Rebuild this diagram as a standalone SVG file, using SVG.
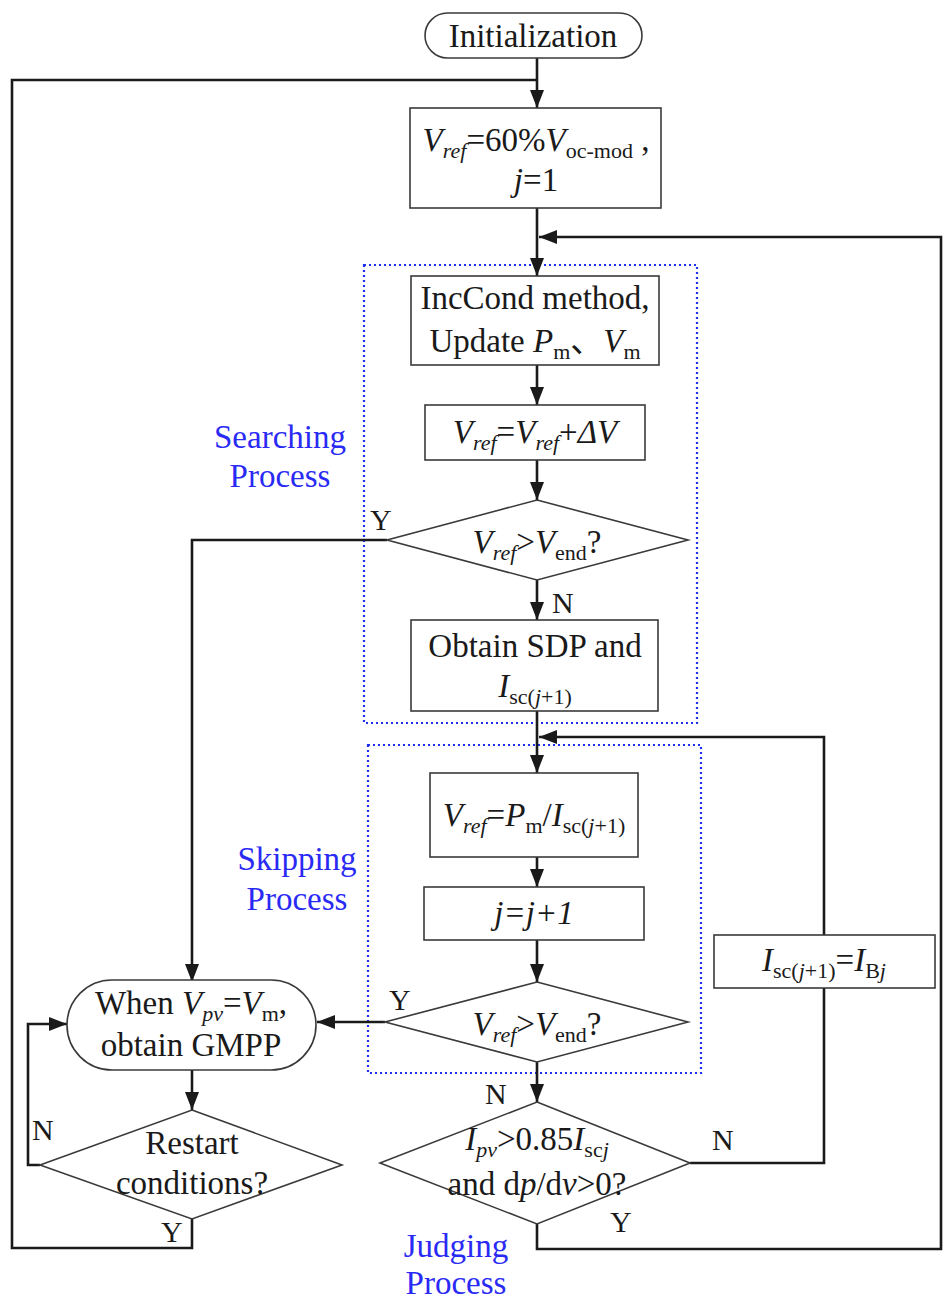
<svg xmlns="http://www.w3.org/2000/svg" width="943" height="1300" viewBox="0 0 943 1300" font-family="'Times New Roman', 'Liberation Serif', 'DejaVu Serif', serif">
  <style>
    .node { fill: #ffffff; stroke: #3a3a3a; stroke-width: 1.6; }
    .wire { fill: none; stroke: #1a1a1a; stroke-width: 2.6; }
    .zone { fill: none; stroke: #1f2ff0; stroke-width: 2.2; stroke-dasharray: 2 3; }
    text { font-family: "Times New Roman", "Liberation Serif", "DejaVu Serif", "Noto Sans CJK SC", serif; font-size: 33px; fill: #1a1a1a; }
    .c { text-anchor: middle; }
    .i { font-style: italic; }
    .s { font-size: 22px; }
    .lbl { font-size: 30px; }
    .blue { fill: #2a2af5; text-anchor: middle; }
  </style>
  <defs>
    <marker id="arrow" markerUnits="userSpaceOnUse" markerWidth="20" markerHeight="14" refX="18" refY="7" orient="auto">
      <path d="M0,0 L18,7 L0,14 z" fill="#1a1a1a"/>
    </marker>
  </defs>
  <rect width="943" height="1300" fill="#ffffff"/>

  <!-- process zones -->
  <g id="zones">
    <rect class="zone" x="364" y="265" width="333" height="458"/>
    <rect class="zone" x="368" y="745" width="333" height="328"/>
    <text class="blue" x="280" y="448">Searching</text>
    <text class="blue" x="280" y="487">Process</text>
    <text class="blue" x="297" y="870">Skipping</text>
    <text class="blue" x="297" y="910">Process</text>
    <text class="blue" x="456" y="1257">Judging</text>
    <text class="blue" x="456" y="1294">Process</text>
  </g>

  <!-- connectors -->
  <g id="connectors">
    <path class="wire" d="M537,58 V108" marker-end="url(#arrow)"/>
    <path class="wire" d="M192,1219 V1248 H12 V80 H537"/>
    <path class="wire" d="M537,208 V276" marker-end="url(#arrow)"/>
    <path class="wire" d="M537,1224 V1249 H941 V237 H539" marker-end="url(#arrow)"/>
    <path class="wire" d="M537,365 V405" marker-end="url(#arrow)"/>
    <path class="wire" d="M537,460 V500" marker-end="url(#arrow)"/>
    <path class="wire" d="M537,580 V620" marker-end="url(#arrow)"/>
    <path class="wire" d="M387,540 H192 V982" marker-end="url(#arrow)"/>
    <path class="wire" d="M537,711 V773" marker-end="url(#arrow)"/>
    <path class="wire" d="M690,1163 H824 V988"/>
    <path class="wire" d="M824,935 V737 H539" marker-end="url(#arrow)"/>
    <path class="wire" d="M537,857 V887" marker-end="url(#arrow)"/>
    <path class="wire" d="M537,940 V982" marker-end="url(#arrow)"/>
    <path class="wire" d="M385,1022 H317" marker-end="url(#arrow)"/>
    <path class="wire" d="M537,1062 V1102" marker-end="url(#arrow)"/>
    <path class="wire" d="M192,1070 V1110" marker-end="url(#arrow)"/>
    <path class="wire" d="M40,1165 H28 V1024 H67" marker-end="url(#arrow)"/>
    <!-- branch labels -->
    <text class="lbl" x="370" y="530">Y</text>
    <text class="lbl" x="552" y="613">N</text>
    <text class="lbl" x="389" y="1010">Y</text>
    <text class="lbl" x="485" y="1104">N</text>
    <text class="lbl" x="712" y="1150">N</text>
    <text class="lbl" x="610" y="1232">Y</text>
    <text class="lbl" x="32" y="1140">N</text>
    <text class="lbl" x="161" y="1242">Y</text>
  </g>

  <g id="init">
    <rect class="node" x="425" y="13" width="217" height="45" rx="22.5"/>
    <text class="c" x="533" y="47">Initialization</text>
  </g>

  <g id="setup">
    <rect class="node" x="410" y="108" width="251" height="100"/>
    <text class="c" x="536" y="151"><tspan class="i">V</tspan><tspan class="s i" dy="7">ref</tspan><tspan dy="-7">=60%</tspan><tspan class="i">V</tspan><tspan class="s" dy="7">oc-mod</tspan><tspan dy="-7"> ,</tspan></text>
    <text class="c" x="536" y="191"><tspan class="i">j</tspan>=1</text>
  </g>

  <g id="inccond">
    <rect class="node" x="411" y="276" width="248" height="89"/>
    <text class="c" x="535" y="309">IncCond method,</text>
    <text class="c" x="535" y="352">Update <tspan class="i">P</tspan><tspan class="s" dy="7">m</tspan><tspan dy="-7">、</tspan><tspan class="i">V</tspan><tspan class="s" dy="7">m</tspan></text>
  </g>

  <g id="step">
    <rect class="node" x="425" y="405" width="220" height="55"/>
    <text class="c" x="535" y="443"><tspan class="i">V</tspan><tspan class="s i" dy="7">ref</tspan><tspan dy="-7">=</tspan><tspan class="i">V</tspan><tspan class="s i" dy="7">ref</tspan><tspan dy="-7">+</tspan><tspan class="i">ΔV</tspan></text>
  </g>

  <g id="check-end-1">
    <polygon class="node" points="537,500 688,540 537,580 387,540"/>
    <text class="c" x="537" y="553"><tspan class="i">V</tspan><tspan class="s i" dy="7">ref</tspan><tspan dy="-7">&gt;</tspan><tspan class="i">V</tspan><tspan class="s" dy="7">end</tspan><tspan dy="-7">?</tspan></text>
  </g>

  <g id="sdp">
    <rect class="node" x="411" y="620" width="247" height="91"/>
    <text class="c" x="535" y="657">Obtain SDP and</text>
    <text class="c" x="535" y="697"><tspan class="i">I</tspan><tspan class="s" dy="7">sc(</tspan><tspan class="s i">j</tspan><tspan class="s">+1)</tspan></text>
  </g>

  <g id="skip">
    <rect class="node" x="430" y="773" width="208" height="84"/>
    <text class="c" x="534" y="826"><tspan class="i">V</tspan><tspan class="s i" dy="7">ref</tspan><tspan dy="-7">=</tspan><tspan class="i">P</tspan><tspan class="s" dy="7">m</tspan><tspan dy="-7">/</tspan><tspan class="i">I</tspan><tspan class="s" dy="7">sc(</tspan><tspan class="s i">j</tspan><tspan class="s">+1)</tspan></text>
  </g>

  <g id="increment">
    <rect class="node" x="424" y="887" width="220" height="53"/>
    <text class="c i" x="534" y="924">j=j+1</text>
  </g>

  <g id="check-end-2">
    <polygon class="node" points="537,982 688,1022 537,1062 385,1022"/>
    <text class="c" x="537" y="1035"><tspan class="i">V</tspan><tspan class="s i" dy="7">ref</tspan><tspan dy="-7">&gt;</tspan><tspan class="i">V</tspan><tspan class="s" dy="7">end</tspan><tspan dy="-7">?</tspan></text>
  </g>

  <g id="judge">
    <polygon class="node" points="537,1102 690,1163 537,1224 380,1163"/>
    <text class="c" x="537" y="1150"><tspan class="i">I</tspan><tspan class="s i" dy="7">pv</tspan><tspan dy="-7">&gt;0.85</tspan><tspan class="i">I</tspan><tspan class="s" dy="7">sc</tspan><tspan class="s i">j</tspan></text>
    <text class="c" x="537" y="1195">and d<tspan class="i">p</tspan>/d<tspan class="i">v</tspan>&gt;0?</text>
  </g>

  <g id="update-isc">
    <rect class="node" x="714" y="935" width="221" height="53"/>
    <text class="c" x="824" y="971"><tspan class="i">I</tspan><tspan class="s" dy="7">sc(</tspan><tspan class="s i">j</tspan><tspan class="s">+1)</tspan><tspan dy="-7">=</tspan><tspan class="i">I</tspan><tspan class="s" dy="7">B</tspan><tspan class="s i">j</tspan></text>
  </g>

  <g id="gmpp">
    <rect class="node" x="67" y="980" width="249" height="90" rx="45"/>
    <text class="c" x="191" y="1014">When <tspan class="i">V</tspan><tspan class="s i" dy="7">pv</tspan><tspan dy="-7">=</tspan><tspan class="i">V</tspan><tspan class="s" dy="7">m</tspan><tspan dy="-7">,</tspan></text>
    <text class="c" x="191" y="1056">obtain GMPP</text>
  </g>

  <g id="restart">
    <polygon class="node" points="192,1110 342,1165 192,1219 40,1165"/>
    <text class="c" x="192" y="1154">Restart</text>
    <text class="c" x="192" y="1194">conditions?</text>
  </g>
</svg>
